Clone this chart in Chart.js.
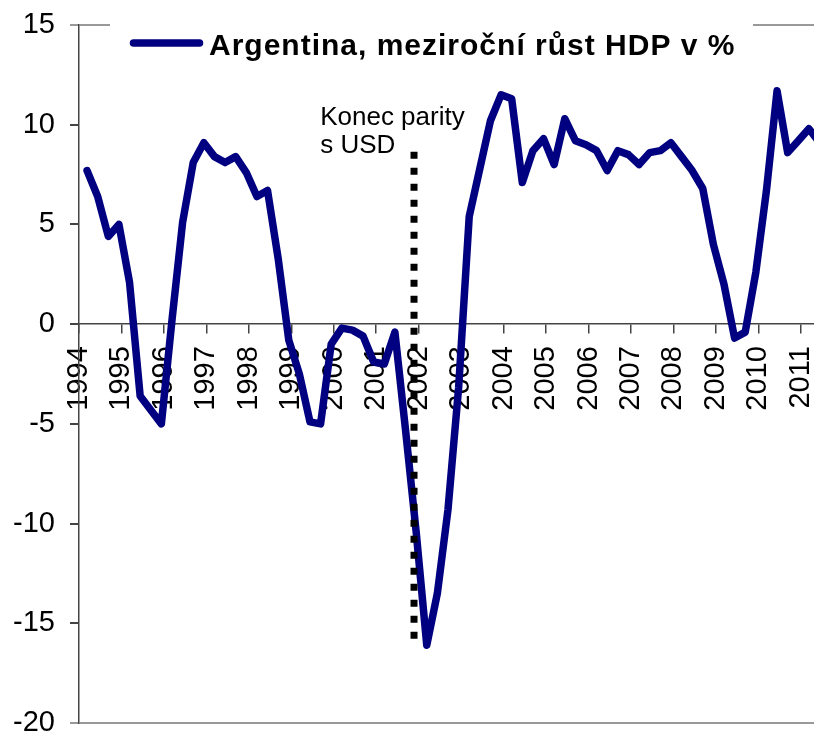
<!DOCTYPE html>
<html lang="cs">
<head>
<meta charset="utf-8">
<title>Argentina, meziroční růst HDP v %</title>
<script src="https://cdn.jsdelivr.net/npm/chart.js@4.4.1/dist/chart.umd.min.js"></script>
<style>
  html, body { margin: 0; padding: 0; background: #fff; overflow: hidden; }
  #wrap { width: 814px; height: 734px; }
</style>
</head>
<body>
<div id="wrap"><canvas id="gdpChart"></canvas></div>
<script>
// Argentina, y/y GDP growth in %, quarterly, 1994 Q1 - 2011 Q2
const seriesName = "Argentina, meziroční růst HDP v %";
const years = [1994, 1995, 1996, 1997, 1998, 1999, 2000, 2001, 2002,
               2003, 2004, 2005, 2006, 2007, 2008, 2009, 2010, 2011];
const gdpGrowth = [
  7.7, 6.4, 4.4, 5.0,        // 1994
  2.1, -3.6, -4.3, -5.0,     // 1995
  0.2, 5.1, 8.1, 9.1,        // 1996
  8.4, 8.1, 8.4, 7.6,        // 1997
  6.4, 6.7, 3.3, -0.8,       // 1998
  -2.5, -4.9, -5.0, -1.0,    // 1999
  -0.2, -0.3, -0.6, -1.9,    // 2000
  -2.0, -0.4, -5.3, -10.4,   // 2001
  -16.1, -13.5, -9.3, -3.2,  // 2002
  5.4, 7.8, 10.2, 11.5,      // 2003
  11.3, 7.1, 8.7, 9.3,       // 2004
  8.0, 10.3, 9.2, 9.0,       // 2005
  8.7, 7.7, 8.7, 8.5,        // 2006
  8.0, 8.6, 8.7, 9.1,        // 2007
  8.4, 7.7, 6.8, 4.0,        // 2008
  2.0, -0.7, -0.4, 2.6,      // 2009
  6.7, 11.7, 8.6, 9.2,       // 2010
  9.8, 9.1                   // 2011
];
const yTicks = [-20, -15, -10, -5, 0, 5, 10, 15];

// end of the peso-dollar parity (annotation)
const parityLabel = ["Konec parity", "s USD"];
const parityX = 2001.89;
const parityTop = 8.65;
const parityBottom = -15.8;

const QUARTER_SHIFT = 0.19;
const X_MAX = 2011.31;
const NAVY = "#000080";

const quarterLabels = gdpGrowth.map((v, i) => (years[0] + Math.floor(i / 4)) + " Q" + (i % 4 + 1));
const points = gdpGrowth.map((v, i) => ({
  x: years[0] + Math.floor(i / 4) + (i % 4) / 4 + QUARTER_SHIFT,
  y: v
}));

// dotted line + text for the parity end
const parityPlugin = {
  id: "parity",
  afterDatasetsDraw(chart) {
    const { ctx, scales: { x, y } } = chart;
    const px = x.getPixelForValue(parityX);
    ctx.save();
    ctx.strokeStyle = "#000";
    ctx.lineWidth = 7;
    ctx.lineCap = "butt";
    ctx.setLineDash([7, 9]);
    ctx.beginPath();
    ctx.moveTo(px, y.getPixelForValue(parityTop));
    ctx.lineTo(px, y.getPixelForValue(parityBottom));
    ctx.stroke();
    ctx.setLineDash([]);
    ctx.fillStyle = "#000";
    ctx.font = "26px 'Liberation Sans', Arial, sans-serif";
    ctx.textAlign = "left";
    ctx.textBaseline = "alphabetic";
    const tx = x.getPixelForValue(1999.68);
    ctx.fillText(parityLabel[0], tx, y.getPixelForValue(10.0));
    ctx.fillText(parityLabel[1], tx, y.getPixelForValue(8.58));
    ctx.restore();
  }
};

// legend drawn over the top border, like the original
const legendPlugin = {
  id: "topLegend",
  afterDraw(chart) {
    const { ctx, chartArea } = chart;
    const ly = 43;
    ctx.save();
    ctx.fillStyle = "#fff";
    ctx.fillRect(110, chartArea.top - 8, 643, 16);
    ctx.strokeStyle = NAVY;
    ctx.lineWidth = 7.5;
    ctx.lineCap = "round";
    ctx.beginPath();
    ctx.moveTo(133.5, ly);
    ctx.lineTo(199.5, ly);
    ctx.stroke();
    ctx.fillStyle = "#000";
    ctx.font = "bold 30px 'Liberation Sans', Arial, sans-serif";
    if ("letterSpacing" in ctx) ctx.letterSpacing = "1px";
    ctx.textAlign = "left";
    ctx.textBaseline = "alphabetic";
    ctx.fillText(seriesName, 209, 54.5);
    ctx.restore();
  }
};

const isBorderTick = v => v === yTicks[0] || v === yTicks[yTicks.length - 1];

new Chart(document.getElementById("gdpChart"), {
  type: "line",
  data: {
    labels: quarterLabels,
    datasets: [{
      label: seriesName,
      data: points,
      borderColor: NAVY,
      backgroundColor: NAVY,
      borderWidth: 7.5,
      borderCapStyle: "round",
      borderJoinStyle: "round",
      pointRadius: 0,
      tension: 0,
      fill: false
    }]
  },
  options: {
    responsive: true,
    maintainAspectRatio: false,
    animation: false,
    layout: { padding: { top: 25, right: 0, bottom: 11, left: 0 } },
    plugins: {
      legend: { display: false },
      tooltip: { enabled: false }
    },
    scales: {
      x: {
        type: "linear",
        position: { y: 0 },
        min: years[0],
        max: X_MAX,
        afterBuildTicks: s => { s.ticks = years.map(v => ({ value: v })); },
        afterFit: s => { s.paddingLeft = 0; s.paddingRight = 0; },
        border: { display: true, color: "#444", width: 1.5 },
        grid: {
          drawOnChartArea: false,
          drawTicks: true,
          tickLength: 9,
          tickColor: "#444",
          lineWidth: 1.5
        },
        ticks: {
          autoSkip: false,
          minRotation: 90,
          maxRotation: 90,
          padding: 13,
          color: "#000",
          font: { family: "'Liberation Sans', Arial, sans-serif", size: 29 },
          callback: v => String(v)
        }
      },
      y: {
        min: yTicks[0],
        max: yTicks[yTicks.length - 1],
        afterBuildTicks: s => { s.ticks = yTicks.map(v => ({ value: v })); },
        afterFit: s => { s.width = 79; s.paddingTop = 0; s.paddingBottom = 0; },
        border: { display: true, color: "#444", width: 1.5 },
        grid: {
          drawOnChartArea: true,
          color: c => isBorderTick(c.tick.value) ? "#999" : "rgba(0,0,0,0)",
          tickColor: c => isBorderTick(c.tick.value) ? "#999" : "#444",
          lineWidth: 2,
          tickLength: 9
        },
        ticks: {
          padding: 15,
          color: "#000",
          font: { family: "'Liberation Sans', Arial, sans-serif", size: 29 },
          callback: v => String(v)
        }
      }
    }
  },
  plugins: [parityPlugin, legendPlugin]
});
</script>
</body>
</html>
